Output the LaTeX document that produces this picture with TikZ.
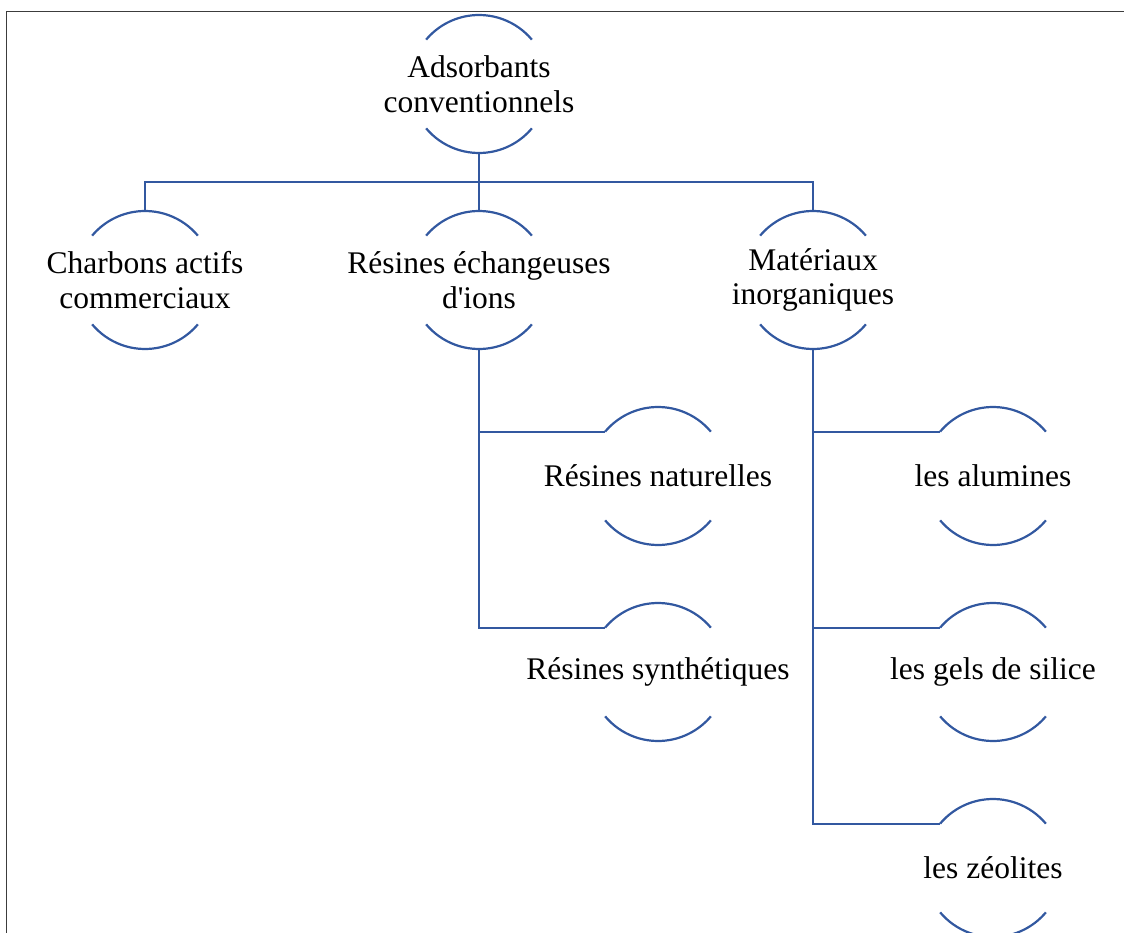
\documentclass[tikz,border=0pt]{standalone}
\usepackage{fontspec}
\setmainfont{Liberation Serif}
\usepackage{tikz}
\usetikzlibrary{calc,positioning}
\definecolor{bubbleblue}{RGB}{50,88,160}
\definecolor{framegray}{RGB}{60,60,60}
\tikzstyle{arcline}=[draw=bubbleblue,line width=2.2pt]
\tikzstyle{link}=[draw=bubbleblue,line width=2.2pt,-]
\tikzstyle{bubble}=[circle,minimum size=138pt,inner sep=0pt,outer sep=0pt]
\tikzstyle{bubbletext}=[align=center,inner sep=0pt,
               font=\fontsize{31.5}{34.5}\selectfont]

\begin{document}
\begin{tikzpicture}[x=1pt,y=1pt]

% % % % % % % % % % % % % % %

\useasboundingbox (0,0) rectangle (1124,-933);
\draw[framegray,line width=1.5pt] (6.5,-933) -- (6.5,-11.5) -- (1124,-11.5);

\node[bubble,label={[bubbletext]center:Adsorbants\\conventionnels}] (adsorb) at (479,-84) {};

\node[bubble,label={[bubbletext]center:Charbons actifs\\commerciaux}] (charbon) at (145,-280) {};
\node[bubble,label={[bubbletext]center:R\'esines \'echangeuses\\d\textquotesingle ions}] (resech) at (479,-280) {};
\node[bubble,label={[bubbletext]center:Mat\'eriaux\\inorganiques}] (materiaux) at (813,-280) {};

\node[bubble,label={[bubbletext]center:R\'esines naturelles}] (resnat) at (658,-476) {};
\node[bubble,label={[bubbletext]center:R\'esines synth\'etiques}] (ressyn) at (658,-672) {};

\node[bubble,label={[bubbletext]center:les alumines}] (alumine) at (993,-476) {};
\node[bubble,label={[bubbletext]center:les gels de silice}] (silice) at (993,-672) {};
\node[bubble,label={[bubbletext]center:les z\'eolites}] (zeolite) at (993,-868) {};

% open arcs above and below each text
\foreach \n in {adsorb,charbon,resech,materiaux,resnat,ressyn,alumine,silice,zeolite} {
\draw[arcline] (\n.40) arc[start angle=40,end angle=140,radius=69pt];
\draw[arcline] (\n.220) arc[start angle=220,end angle=320,radius=69pt];
}

\coordinate (bus) at ($(adsorb.south)!0.5!(resech.north)$);
\draw[link] (adsorb.south) -- (resech.north);
\draw[link] (charbon.north) |- (bus) -| (materiaux.north);

\draw[link] (resech.south) |- (resnat.140);
\draw[link] (resech.south) |- (ressyn.140);

\draw[link] (materiaux.south) |- (alumine.140);
\draw[link] (materiaux.south) |- (silice.140);
\draw[link] (materiaux.south) |- (zeolite.140);

\end{tikzpicture}
\end{document}
